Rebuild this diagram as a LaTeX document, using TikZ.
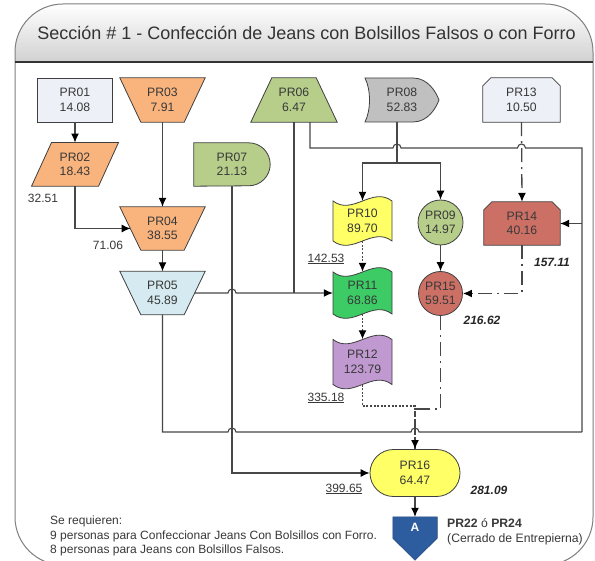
\documentclass[tikz,border=0pt]{standalone}
\usepackage{fontspec}
\setmainfont{Liberation Sans}
\usetikzlibrary{arrows.meta,calc,backgrounds}

\definecolor{edge}{HTML}{3F3F3F}
\definecolor{lnk}{HTML}{474747}
\definecolor{txt}{HTML}{383838}
\definecolor{framegray}{HTML}{7F7F7F}
\definecolor{cPale}{HTML}{EDF1F7}
\definecolor{cOrange}{HTML}{F9B47E}
\definecolor{cCyan}{HTML}{D5EBF1}
\definecolor{cOlive}{HTML}{B7CE8B}
\definecolor{cGray}{HTML}{C0C0C0}
\definecolor{cYellow}{HTML}{FFFF66}
\definecolor{cGreen}{HTML}{3CCB64}
\definecolor{cPurple}{HTML}{C199D1}
\definecolor{cRed}{HTML}{CC7066}
\definecolor{cNavy}{HTML}{2E5D9F}

\begin{document}
\begin{tikzpicture}[x=1pt,y=-1pt,
  proc/.style={align=center, inner sep=0pt, text=txt,
    font=\fontsize{12.2}{14.5}\selectfont},
  outline/.style={draw=edge, line width=0.8pt},
  lbl/.style={inner sep=0pt, text=txt, font=\fontsize{12}{14}\selectfont},
  tot/.style={inner sep=0pt, text=black!85,
    font=\fontsize{12}{14}\selectfont\bfseries\itshape},
  conn/.style={draw=lnk, line width=1.1pt},
  tip/.style={-{Latex[length=9pt,width=8pt,black]}},
  dotln/.style={conn, line width=1.4pt, dash pattern=on 2pt off 1.6pt},
  dashdotln/.style={conn, line width=1.3pt, dash pattern=on 14pt off 5pt on 2pt off 5pt}]
\useasboundingbox (0,0) rectangle (595,561);

% ---------- process nodes ----------
\node[proc, draw=edge, line width=0.8pt, fill=cPale, minimum width=75pt, minimum height=44pt] (p1) at (75,100) {PR01\\14.08};
\node[proc, minimum width=86.6pt, minimum height=43.3pt] (p2) at (75,164.4) {PR02\\18.43};
\node[proc, minimum width=85pt, minimum height=44pt] (p3) at (162.5,100) {PR03\\7.91};
\node[proc, minimum width=85pt, minimum height=43pt] (p4) at (162.5,228.5) {PR04\\38.55};
\node[proc, minimum width=85pt, minimum height=43pt] (p5) at (162.5,293) {PR05\\45.89};
\node[proc, minimum width=86pt, minimum height=44pt] (p6) at (294,100) {PR06\\6.47};
\node[proc, minimum width=76pt, minimum height=43pt] (p7) at (232,164.5) {PR07\\21.13};
\node[proc, minimum width=74pt, minimum height=44pt] (p8) at (402,100) {PR08\\52.83};
\node[proc, minimum width=77pt, minimum height=44pt] (p13) at (521.5,100) {PR13\\10.50};
\node[proc, minimum width=59pt, minimum height=40pt] (p10) at (362.5,221) {PR10\\89.70};
\node[proc, circle, draw=edge, line width=0.8pt, fill=cOlive, minimum size=45pt] (p9) at (440.5,222.5) {PR09\\14.97};
\node[proc, minimum width=76pt, minimum height=43pt] (p14) at (522,223.5) {PR14\\40.16};
\node[proc, minimum width=59pt, minimum height=42pt] (p11) at (362.5,293) {PR11\\68.86};
\node[proc, circle, draw=edge, line width=0.8pt, fill=cRed, minimum size=44pt] (p15) at (440.5,293.5) {PR15\\59.51};
\node[proc, minimum width=59pt, minimum height=45pt] (p12) at (362.5,362) {PR12\\123.79};
\node[proc, draw=edge, line width=0.8pt, fill=cYellow, rounded corners=23.5pt,
  minimum width=90pt, minimum height=47pt] (p16) at (415,473) {PR16\\64.47};
\node[proc, text=white, font=\fontsize{12}{14}\selectfont\bfseries,
  minimum width=44pt, minimum height=21pt] (pa) at (415,527.5) {A};

% ---------- section frame, title band and node outlines, kept behind the texts ----------
\begin{scope}[on background layer]
  \fill[white] (15,52) arc(180:270:48) -- (545,4) arc(270:360:48)
    -- (593,517) arc(0:90:48) -- (63,565) arc(90:180:48) -- cycle;
  \shade[top color=white, bottom color=black!18]
    (15,62) -- (15,52) arc(180:270:48) -- (545,4) arc(270:360:48) -- (593,62) -- cycle;
  \draw[framegray, line width=1pt] (15,52) arc(180:270:48) -- (545,4) arc(270:360:48)
    -- (593,517) arc(0:90:48) -- (63,565) arc(90:180:48) -- cycle;
  \draw[black!80, line width=1.2pt] (15,62) -- (593,62);

  % parallelogram
  \filldraw[outline, fill=cOrange] ($(p2.north west)+(20,0)$) -- (p2.north east)
    -- ($(p2.south east)+(-20,0)$) -- (p2.south west) -- cycle;
  % manual operations (wide side on top)
  \foreach \n/\c in {p3/cOrange, p4/cOrange, p5/cCyan}{
    \filldraw[outline, fill=\c] (\n.north west) -- (\n.north east)
      -- ($(\n.south east)+(-21,0)$) -- ($(\n.south west)+(21,0)$) -- cycle;
  }
  % trapezium (narrow side on top)
  \filldraw[outline, fill=cOlive] ($(p6.north west)+(21,0)$) -- ($(p6.north east)+(-21,0)$)
    -- (p6.south east) -- (p6.south west) -- cycle;
  % delay
  \filldraw[outline, fill=cOlive] (p7.north west) -- ($(p7.north east)+(-21.5,0)$)
    arc(270:450:21.5) -- (p7.south west) -- cycle;
  % display
  \begin{scope}[shift={(p8.center)}]
    \filldraw[outline, fill=cGray] (-37,-22) -- (11,-22)
      .. controls (26,-22) and (34,-8) .. (37,0)
      .. controls (34,8) and (26,22) .. (11,22) -- (-37,22)
      .. controls (-31,10) and (-31,-10) .. (-37,-22) -- cycle;
  \end{scope}
  % loop limits
  \filldraw[outline, fill=cPale] (p13.south west) -- ($(p13.north west)+(0,8)$)
    -- ($(p13.north west)+(8,0)$) -- ($(p13.north east)+(-8,0)$)
    -- ($(p13.north east)+(0,8)$) -- (p13.south east) -- cycle;
  \filldraw[outline, fill=cRed] (p14.south west) -- ($(p14.north west)+(0,8)$)
    -- ($(p14.north west)+(8,0)$) -- ($(p14.north east)+(-8,0)$)
    -- ($(p14.north east)+(0,8)$) -- (p14.south east) -- cycle;
  % punched tapes
  \foreach \n/\c/\h in {p10/cYellow/20, p11/cGreen/21, p12/cPurple/22.5}{
    \begin{scope}[shift={(\n.center)}]
      \filldraw[outline, fill=\c] (-29.5,-\h)
        .. controls (-9.8,-\h+15) and (9.8,-\h-15) .. (29.5,-\h)
        -- (29.5,\h)
        .. controls (9.8,\h-15) and (-9.8,\h+15) .. (-29.5,\h) -- cycle;
    \end{scope}
  }
  % off-page reference
  \filldraw[draw=cNavy!80!black, line width=0.6pt, fill=cNavy] (pa.north west) -- (pa.north east)
    -- (pa.south east) -- ($(pa.south)+(0,22)$) -- (pa.south west) -- cycle;
\end{scope}

\node[inner sep=0pt, text=black!80, font=\fontsize{18}{20}\selectfont] (title) at (306.5,33)
  {Sección \# 1 - Confección de Jeans con Bolsillos Falsos o con Forro};

% ---------- connectors ----------
\coordinate (j8) at (397,163);
\coordinate (rt) at (582,148);
\coordinate (rb) at (582,432);

\draw[conn, tip] (p1.south) -- (p2.north);
\draw[conn, tip] (p2.south) |- ($(p4.west)+(10.8,0)$);
\draw[conn, tip] (p3.south) -- (p4.north);
\draw[conn, tip] (p4.south) -- (p5.north);
% PR05 and PR06 into PR11
\draw[conn, tip] ($(p5.east)+(-10.7,0)$) -- ($(p7.south |- p5.east)+(-4,0)$) arc(180:360:4)
  -- (p11.west);
\draw[conn] (p6.south) -- (p6.south |- p11.west);
% PR06 and PR05 into PR14 from the right
\draw[conn] ($(p6.south)+(16,0)$) |- ($(j8 |- rt)+(-4,0)$) arc(180:360:4)
  -- ($(p13.south |- rt)+(-4,0)$) arc(180:360:4) -- (rt) -- (rb);
\draw[conn] (p5.south) |- ($(p7.south |- rb)+(-4,0)$) arc(180:360:4)
  -- ($(p16.north |- rb)+(-4,0)$) arc(180:360:4) -- (rb);
\draw[conn, tip] (rt |- p14.east) -- (p14.east);
% PR07 into PR16
\draw[conn, tip] (p7.south) |- (p16.west);
% PR08 branches
\draw[conn] ($(p8.south)+(-5,0)$) -- (j8);
\draw[conn, tip] (j8) -| (p10.north);
\draw[conn, tip] (j8) -| (p9.north);
% PR13, PR14, PR09 into PR15
\draw[dashdotln, tip] (p13.south) -- (p14.north);
\draw[dashdotln, tip] (p14.south) |- (p15.east);
\draw[conn, tip] (p9.south) -- (p15.north);
% tape chain
\draw[dotln, tip] (p10.south) -- (p11.north);
\draw[dotln, tip] (p11.south) -- (p12.north);
\draw[dashdotln] (p15.south) |- ($(p16.north)+(0,-40)$) -- (p16.north);
\draw[dotln, tip] (p12.south) |- ($(p16.north)+(0,-43)$) -- (p16.north);
% PR16 to the off-page reference
\draw[conn, tip] (p16.south) -- (pa.north);

% ---------- cumulative times ----------
\node[lbl] (t1) at (43,198) {32.51};
\node[lbl] (t2) at (108,245) {71.06};
\node[lbl] (t3) at (326,259) {\underline{142.53}};
\node[lbl] (t4) at (326,398) {\underline{335.18}};
\node[lbl] (t5) at (344,489) {\underline{399.65}};
\node[tot] (t6) at (552,262) {157.11};
\node[tot] (t7) at (482,320) {216.62};
\node[tot] (t8) at (489,490) {281.09};

% ---------- notes ----------
\node[anchor=west, align=left, inner sep=0pt, text=txt, font=\fontsize{12}{14.5}\selectfont] (note) at (50,536)
  {Se requieren:\\9 personas para Confeccionar Jeans Con Bolsillos con Forro.\\8 personas para Jeans con Bolsillos Falsos.};
\node[anchor=west, align=left, inner sep=0pt, text=txt, font=\fontsize{12.2}{15}\selectfont] (next) at (447,532)
  {\textbf{PR22} ó \textbf{PR24}\\(Cerrado de Entrepierna)};
\end{tikzpicture}
\end{document}
